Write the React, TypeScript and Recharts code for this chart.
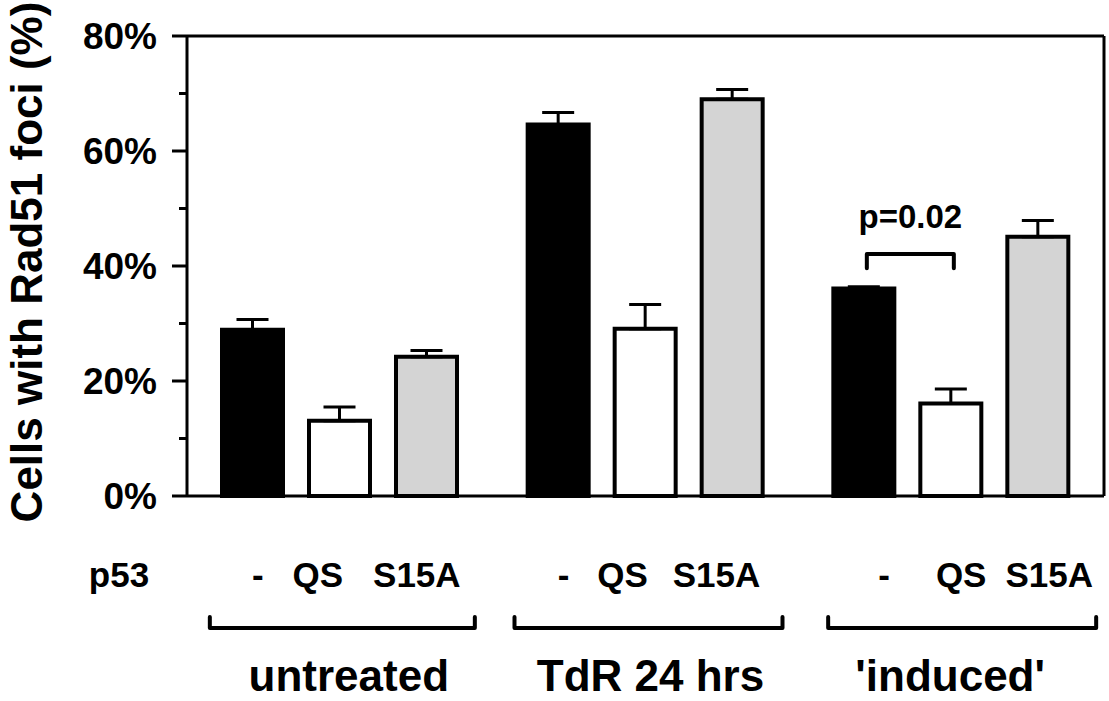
import { BarChart, Bar, XAxis, YAxis, ErrorBar, ReferenceLine } from "recharts"

const groups = ["untreated", "TdR 24 hrs", "'induced'"]
const variants = ["-", "QS", "S15A"]

const minusValues = [28.9, 64.6, 36.1]
const minusErrors = [1.8, 2.1, 0.3]
const qsValues = [13.1, 29.1, 16.1]
const qsErrors = [2.4, 4.2, 2.5]
const s15aValues = [24.2, 69.0, 45.1]
const s15aErrors = [1.1, 1.7, 2.8]

const yTicks = [0, 10, 20, 30, 40, 50, 60, 70, 80]

// significance bracket over the 'induced' group (- vs QS)
const pText = "p=0.02"
const pGroup = 2
const pBracketTop = 42.1
const pBracketLeg = 39.6
const pTextLevel = 46.6

const FONT = "'Liberation Sans', Arial, Helvetica, sans-serif"
const BAR_SIZE = 61
const BAR_GAP = 26
const Y_TICK_SIZE = 15
const Y_TICK_MARGIN = 15

// hand nudges for the text under the axis, relative to each bar / group centre
const variantNudge = [
  [5, -22, -10],
  [5, -23, -16],
  [20, 10, 11],
]
const bracketSpan = [
  [-130, 135],
  [-131, 137],
  [-123, 145],
]
const groupNudge = [9, 5, -1]

const data = groups.map((group, i) => ({
  group,
  minus: minusValues[i],
  minusErr: [0, minusErrors[i]],
  qs: qsValues[i],
  qsErr: [0, qsErrors[i]],
  s15a: s15aValues[i],
  s15aErr: [0, s15aErrors[i]],
}))

function YTick(props: any) {
  const { x, y, payload } = props
  const v = payload.value
  const major = v % 20 === 0
  const axisX = x + Y_TICK_SIZE + Y_TICK_MARGIN
  return (
    <g>
      <line x1={axisX - (major ? 15 : 8)} x2={axisX} y1={y} y2={y} stroke="#000" strokeWidth={3} />
      {major && (
        <text x={x} y={y + 13} textAnchor="end" fontFamily={FONT} fontWeight="bold" fontSize={37} fill="#000">
          {v}%
        </text>
      )}
    </g>
  )
}

function GroupTick(props: any) {
  const { x, y, payload } = props
  const i = props.index ?? groups.indexOf(payload.value)
  const step = BAR_SIZE + BAR_GAP
  const [bl, br] = bracketSpan[i]
  return (
    <g>
      {variants.map((v, j) => (
        <text
          key={v}
          x={x + (j - 1) * step + variantNudge[i][j]}
          y={y + 91}
          textAnchor="middle"
          fontFamily={FONT}
          fontWeight="bold"
          fontSize={35}
          fill="#000"
        >
          {v}
        </text>
      ))}
      <path
        d={`M${x + bl},${y + 121} L${x + bl},${y + 132} L${x + br},${y + 132} L${x + br},${y + 121}`}
        fill="none"
        stroke="#000"
        strokeWidth={4}
        strokeLinecap="round"
        strokeLinejoin="round"
      />
      <text
        x={x + groupNudge[i]}
        y={y + 195}
        textAnchor="middle"
        fontFamily={FONT}
        fontWeight="bold"
        fontSize={44}
        fill="#000"
      >
        {payload.value}
      </text>
    </g>
  )
}

function PBracket(props: any) {
  const { x, y, width, height, value, index } = props
  if (index !== pGroup || !value) return null
  const base = y + height
  const ppu = height / value
  const toY = (v: number) => base - v * ppu
  const x1 = x + width / 2 + 3
  const x2 = x1 + BAR_SIZE + BAR_GAP
  return (
    <g>
      <path
        d={`M${x1},${toY(pBracketLeg)} L${x1},${toY(pBracketTop)} L${x2},${toY(pBracketTop)} L${x2},${toY(pBracketLeg)}`}
        fill="none"
        stroke="#000"
        strokeWidth={4}
        strokeLinecap="round"
        strokeLinejoin="round"
      />
      <text
        x={(x1 + x2) / 2}
        y={toY(pTextLevel)}
        textAnchor="middle"
        fontFamily={FONT}
        fontWeight="bold"
        fontSize={33}
        fill="#000"
      >
        {pText}
      </text>
    </g>
  )
}

export default function App() {
  return (
    <div style={{ position: "absolute", left: 0, top: 0, background: "#fff" }}>
      <BarChart
        width={1109}
        height={701}
        data={data}
        margin={{ top: 36, right: 0, bottom: 0, left: 0 }}
        barGap={BAR_GAP}
      >
        <XAxis
          dataKey="group"
          height={205}
          interval={0}
          tickLine={false}
          tickSize={0}
          tickMargin={0}
          axisLine={{ stroke: "#000", strokeWidth: 3 }}
          tick={(p: any) => <GroupTick {...p} />}
          label={(p: any) => {
            const vb = p.viewBox
            return (
              <text
                x={vb.x - 68}
                y={vb.y + 91}
                textAnchor="middle"
                fontFamily={FONT}
                fontWeight="bold"
                fontSize={35}
                fill="#000"
              >
                p53
              </text>
            )
          }}
        />
        <YAxis
          width={187}
          domain={[0, 80]}
          ticks={yTicks}
          interval={0}
          tickLine={false}
          tickSize={Y_TICK_SIZE}
          tickMargin={Y_TICK_MARGIN}
          axisLine={{ stroke: "#000", strokeWidth: 3 }}
          tick={(p: any) => <YTick {...p} />}
          label={(p: any) => {
            const vb = p.viewBox
            const cx = vb.x + 42
            const cy = vb.y + vb.height / 2 - 4
            return (
              <text
                x={cx}
                y={cy}
                transform={`rotate(-90 ${cx} ${cy})`}
                textAnchor="middle"
                fontFamily={FONT}
                fontWeight="bold"
                fontSize={44}
                fill="#000"
              >
                Cells with Rad51 foci (%)
              </text>
            )
          }}
        />
        <YAxis
          yAxisId="right"
          orientation="right"
          width={5}
          domain={[0, 80]}
          tick={false}
          tickLine={false}
          axisLine={{ stroke: "#000", strokeWidth: 3 }}
        />
        <ReferenceLine y={80} stroke="#000" strokeWidth={3} />
        <Bar
          dataKey="minus"
          fill="#000"
          stroke="#000"
          strokeWidth={4}
          barSize={BAR_SIZE}
          isAnimationActive={false}
          label={(p: any) => <PBracket {...p} />}
        >
          <ErrorBar dataKey="minusErr" width={16} stroke="#000" strokeWidth={3} direction="y" />
        </Bar>
        <Bar dataKey="qs" fill="#fff" stroke="#000" strokeWidth={4} barSize={BAR_SIZE} isAnimationActive={false}>
          <ErrorBar dataKey="qsErr" width={16} stroke="#000" strokeWidth={3} direction="y" />
        </Bar>
        <Bar dataKey="s15a" fill="#d4d4d4" stroke="#000" strokeWidth={4} barSize={BAR_SIZE} isAnimationActive={false}>
          <ErrorBar dataKey="s15aErr" width={16} stroke="#000" strokeWidth={3} direction="y" />
        </Bar>
      </BarChart>
    </div>
  )
}
